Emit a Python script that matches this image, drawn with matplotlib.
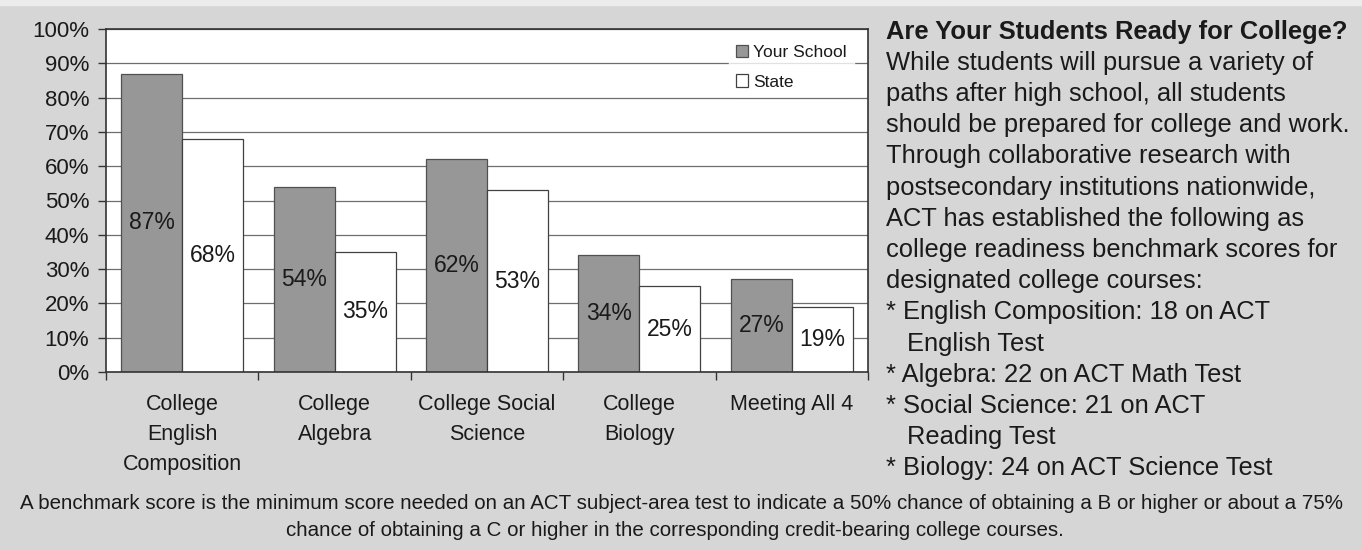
import numpy as np
from matplotlib import pyplot as plt
from matplotlib.patches import Rectangle
from matplotlib.ticker import MultipleLocator, FuncFormatter

plt.rcParams["font.family"] = ["Liberation Sans", "DejaVu Sans"]

# data
categories = ["College\nEnglish\nComposition", "College\nAlgebra", "College Social\nScience",
              "College\nBiology", "Meeting All 4"]
your_school = [87, 54, 62, 34, 27]
state = [68, 35, 53, 25, 19]
series_names = ["Your School", "State"]

side_lines = [
    "While students will pursue a variety of",
    "paths after high school, all students",
    "should be prepared for college and work.",
    "Through collaborative research with",
    "postsecondary institutions nationwide,",
    "ACT has established the following as",
    "college readiness benchmark scores for",
    "designated college courses:",
]
bullet_lines = [
    ("* English Composition: 18 on ACT", False),
    ("English Test", True),
    ("* Algebra: 22 on ACT Math Test", False),
    ("* Social Science: 21 on ACT", False),
    ("Reading Test", True),
    ("* Biology: 24 on ACT Science Test", False),
]
side_title = "Are Your Students Ready for College?"
footnote = ["A benchmark score is the minimum score needed on an ACT subject-area test to indicate a 50% chance of obtaining a B or higher or about a 75%",
            "chance of obtaining a C or higher in the corresponding credit-bearing college courses."]

W, H = 1362, 550
BG = "#d6d6d6"
fig = plt.figure(figsize=(W / 100, H / 100), dpi=100, facecolor=BG)

# light strip at the very top of the scan
fig.patches.append(Rectangle((0, 1 - 5 / H), 1, 5 / H, transform=fig.transFigure, color="#ececec", zorder=0))

ax = fig.add_axes([106 / W, 1 - 372 / H, 762 / W, 343 / H])
ax.set_facecolor("white")

x = np.arange(len(categories))
width = 0.4
ax.bar(x - width / 2, your_school, width, color="#979797", edgecolor="#505050", linewidth=0.9,
       label=series_names[0], zorder=2)
ax.bar(x + width / 2, state, width, color="white", edgecolor="#404040", linewidth=0.9,
       label=series_names[1], zorder=2)

for xi, v in zip(x - width / 2, your_school):
    ax.text(xi, v / 2, f"{v}%", ha="center", va="center", fontsize=16.5, color="#1a1a1a", zorder=3)
for xi, v in zip(x + width / 2, state):
    ax.text(xi, v / 2, f"{v}%", ha="center", va="center", fontsize=16.5, color="#1a1a1a", zorder=3)

ax.set_ylim(0, 100)
ax.set_xlim(-0.5, len(categories) - 0.5)
ax.yaxis.set_major_locator(MultipleLocator(10))
ax.yaxis.set_major_formatter(FuncFormatter(lambda v, p: f"{v:.0f}%"))
ax.yaxis.grid(True, color="#6e6e6e", linewidth=0.9, zorder=1)
ax.set_axisbelow(True)

ax.set_xticks(x)
ax.set_xticklabels(categories, fontsize=15.5, linespacing=1.55)
ax.set_xticks(np.arange(-0.5, len(categories)), minor=True)
ax.tick_params(axis="x", which="major", length=0, pad=16, colors="#1a1a1a")
ax.tick_params(axis="x", which="minor", length=6, width=1, color="#333333")
ax.tick_params(axis="y", length=6, width=1, color="#333333", labelsize=16, labelcolor="#1a1a1a", pad=6)

for s in ax.spines.values():
    s.set_color("#333333")
    s.set_linewidth(1.2)

leg = ax.legend(loc="upper left", bbox_to_anchor=(0.806, 0.998), fontsize=12.5, frameon=True,
                fancybox=False, handlelength=0.7, handleheight=0.7, handletextpad=0.3,
                labelspacing=0.8, borderpad=0.4)
leg.get_frame().set_facecolor("white")
leg.get_frame().set_edgecolor("white")
for t in leg.get_texts():
    t.set_color("#1a1a1a")

# side panel text
tx = 886 / W
base = 38.5
step = 31.2
fs = 18.4
fig.text(tx, 1 - base / H, side_title, fontsize=fs, fontweight="bold", color="#1a1a1a", va="baseline")
for i, line in enumerate(side_lines):
    fig.text(tx, 1 - (base + step * (i + 1)) / H, line, fontsize=fs, color="#1a1a1a", va="baseline")
for j, (line, indent) in enumerate(bullet_lines):
    xx = 907 / W if indent else tx
    fig.text(xx, 1 - (base + step * (len(side_lines) + 1 + j)) / H, line, fontsize=fs,
             color="#1a1a1a", va="baseline")

# footnote
fig.text(682 / W, 1 - 509 / H, footnote[0], fontsize=14.8, ha="center", va="baseline", color="#1a1a1a")
fig.text(675 / W, 1 - 536 / H, footnote[1], fontsize=14.8, ha="center", va="baseline", color="#1a1a1a")

fig.savefig("out.png", dpi=100, facecolor=BG)
